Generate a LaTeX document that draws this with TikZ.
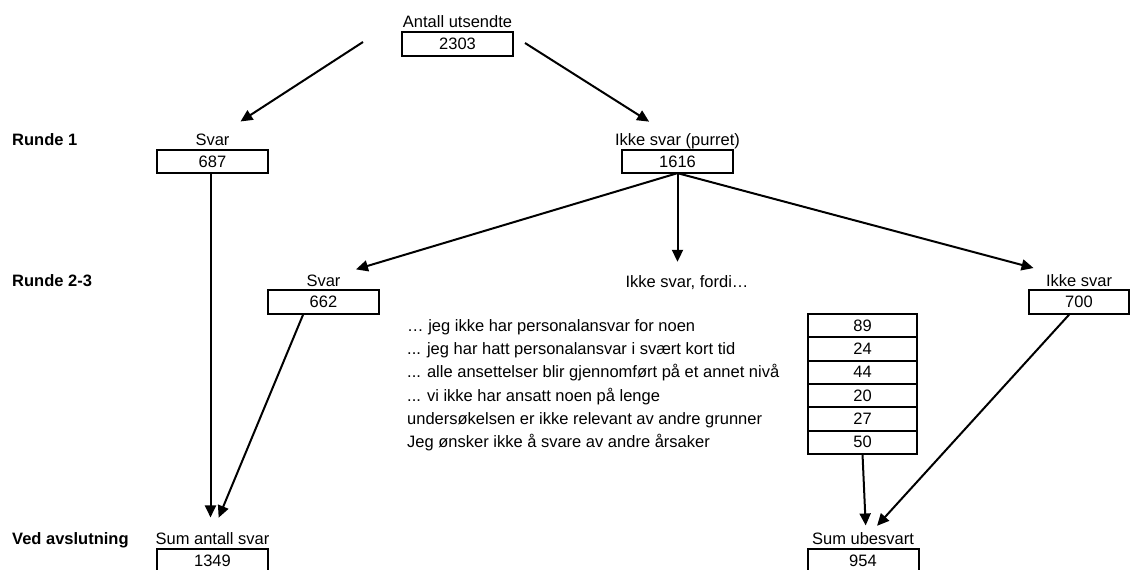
\documentclass[tikz,border=0pt]{standalone}
\usepackage{fontspec}
\setmainfont{Liberation Sans}
\usepackage{tikz}
\usetikzlibrary{positioning, arrows.meta, calc}

\begin{document}
\begin{tikzpicture}[
    x=1pt, y=-1pt,
    font=\fontsize{16.5}{19}\selectfont,
    box/.style={draw, line width=2pt, minimum width=111pt, minimum height=23.3pt, inner sep=0pt, outer sep=0pt},
    cell/.style={box, minimum width=109pt},
    lbl/.style={inner sep=0pt, text height=12pt, text depth=0pt},
    rnd/.style={lbl, font=\fontsize{16.5}{19}\selectfont\bfseries, anchor=base west},
    arrw/.style={-{Triangle[length=12pt, width=11pt]}, line width=2pt}
]
\useasboundingbox (0,0) rectangle (1130,570);

% Sent out
\node[box] (n2303) at (457.5,44) {2303};
\node[lbl, above=5pt of n2303] (lUts) {Antall utsendte};
\coordinate (s1) at (363,42);
\coordinate (s2) at (525,43);

% Round 1
\node[box] (n687) at (212.5,161.5) {687};
\node[lbl, above=4pt of n687] (lSvar1) {Svar};
\node[box] (n1616) at (677.5,161.5) {1616};
\node[lbl, above=4pt of n1616] (lPurret) {Ikke svar (purret)};

% Round 2-3
\node[box] (n662) at (323.5,302) {662};
\node[lbl, above=4pt of n662] (lSvar2) {Svar};
\node[lbl, anchor=base] (lFordi) at (687,287) {Ikke svar, fordi…};
\node[box, minimum width=100pt] (n700) at (1079,302) {700};
\node[lbl, above=4pt of n700] (lIkke) {Ikke svar};

% Reasons table
\coordinate (rx) at (407,0);
\node[cell] (n89) at (862.5,325.7) {89};
\node[cell, below=0pt of n89] (n24) {24};
\node[cell, below=0pt of n24] (n44) {44};
\node[cell, below=0pt of n44] (n20) {20};
\node[cell, below=0pt of n20] (n27) {27};
\node[cell, below=0pt of n27] (n50) {50};
\node[lbl, anchor=base west] (t89) at (n89.base -| rx) {… jeg ikke har personalansvar for noen};
\node[lbl, anchor=base west] (t24) at (n24.base -| rx) {... jeg har hatt personalansvar i svært kort tid};
\node[lbl, anchor=base west] (t44) at (n44.base -| rx) {... alle ansettelser blir gjennomført på et annet nivå};
\node[lbl, anchor=base west] (t20) at (n20.base -| rx) {... vi ikke har ansatt noen på lenge};
\node[lbl, anchor=base west] (t27) at (n27.base -| rx) {undersøkelsen er ikke relevant av andre grunner};
\node[lbl, anchor=base west] (t50) at (n50.base -| rx) {Jeg ønsker ikke å svare av andre årsaker};

% Totals
\node[box] (n1349) at (212.5,560.5) {1349};
\node[lbl, above=4pt of n1349] (lSum1) {Sum antall svar};
\node[box] (n954) at (863,560.5) {954};
\node[lbl, above=4pt of n954] (lSum2) {Sum ubesvart};

% Row headings
\coordinate (lm) at (12,0);
\node[rnd] (r1) at (lSvar1.base -| lm) {Runde 1};
\node[rnd] (r2) at (lSvar2.base -| lm) {Runde 2-3};
\node[rnd] (r3) at (lSum1.base -| lm) {Ved avslutning};

% Arrows
\draw[arrw, shorten >=22pt] (s1) -- (lSvar1);
\draw[arrw, shorten >=22pt] (s2) -- (lPurret);
\draw[arrw, shorten >=16pt] (n1616.south) -- (lSvar2.north east);
\draw[arrw, shorten >=13pt] (n1616.south) -- (n1616.south |- lFordi.north);
\draw[arrw, shorten >=23pt] (n1616.south) -- (lIkke);
\draw[arrw, shorten >=15pt] ([xshift=-2pt]n687.south) -- ([xshift=-2pt]lSum1.north);
\draw[arrw, shorten >=16pt] ([xshift=-20pt]n662.south) -- (lSum1.north);
\draw[arrw, shorten >=7pt] (n50.south) -- ([xshift=3pt]lSum2.north);
\draw[arrw, shorten >=9pt] ([xshift=-9pt]n700.south) -- ([xshift=8pt]lSum2.north);

\end{tikzpicture}
\end{document}
